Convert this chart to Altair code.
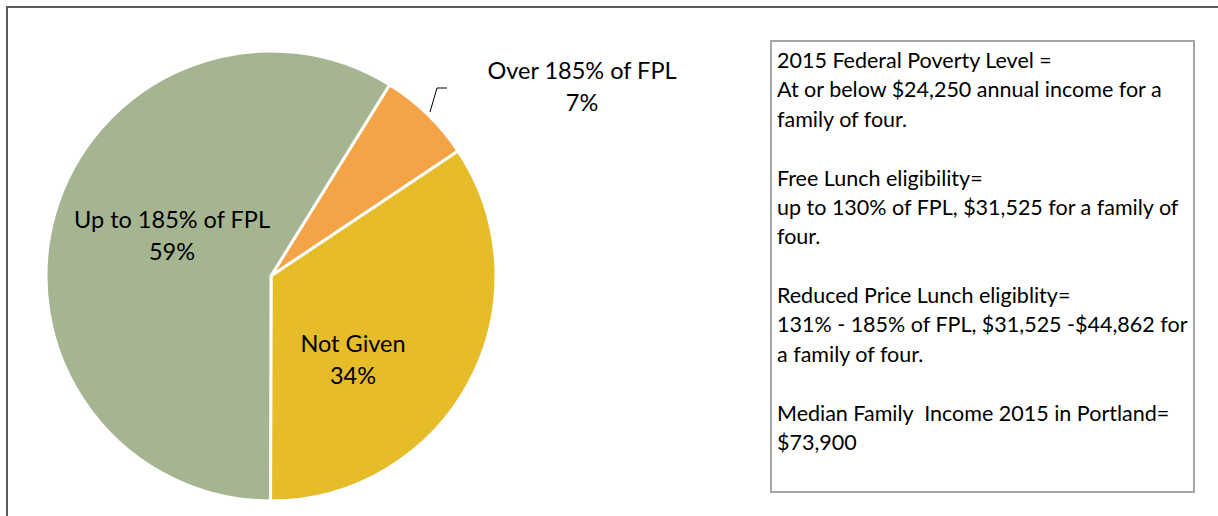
import math
import altair as alt
import pandas as pd

# ---- data ----
categories = ["Over 185% of FPL", "Not Given", "Up to 185% of FPL"]
shares = [6.8, 34.4, 58.8]
pct_labels = ["7%", "34%", "59%"]
note_lines = [
    "2015 Federal Poverty Level =",
    "At or below $24,250 annual income for a",
    "family of four.",
    "",
    "Free Lunch eligibility=",
    "up to 130% of FPL, $31,525 for a family of",
    "four.",
    "",
    "Reduced Price Lunch eligiblity=",
    "131% - 185% of FPL, $31,525 -$44,862 for",
    "a family of four.",
    "",
    "Median Family\u00a0 Income 2015 in Portland=",
    "$73,900",
]

# ---- styling / layout ----
colors = ["#F3A447", "#E6BC29", "#A5B592"]
label_x = [582, 353, 172]
label_y = [79, 352, 228]
W, H = 1218, 516
CX, CY, R = 271, 276, 225
START = math.radians(31.8)
FONT = "Lato"

df = pd.DataFrame({
    "category": categories,
    "share": shares,
    "pct": pct_labels,
    "order": list(range(len(categories))),
})
lab = df.assign(lx=label_x, ly=label_y)
one = pd.DataFrame({"a": [0]})
notes_df = pd.DataFrame({"line": note_lines, "row": list(range(len(note_lines)))})

frame_left = alt.Chart(one).mark_rule(color="#595959", strokeWidth=2).encode(
    x=alt.value(7), y=alt.value(6), y2=alt.value(H)
)
frame_top = alt.Chart(one).mark_rule(color="#595959", strokeWidth=2).encode(
    x=alt.value(6), x2=alt.value(W), y=alt.value(7)
)

pie = alt.Chart(df).mark_arc(radius=R, stroke="white", strokeWidth=3).encode(
    theta=alt.Theta("share:Q", stack=True,
                    scale=alt.Scale(range=[START, START + 2 * math.pi])),
    color=alt.Color("category:N", scale=alt.Scale(domain=categories, range=colors), legend=None),
    order=alt.Order("order:Q"),
    x=alt.value(CX), y=alt.value(CY),
)

name_text = alt.Chart(lab).mark_text(font=FONT, fontSize=23.5, color="#000000", baseline="alphabetic").encode(
    x=alt.X("lx:Q", scale=None, axis=None), y=alt.Y("ly:Q", scale=None, axis=None), text="category:N"
)
pct_text = alt.Chart(lab).mark_text(font=FONT, fontSize=23.5, color="#000000", baseline="alphabetic", dy=32).encode(
    x=alt.X("lx:Q", scale=None, axis=None), y=alt.Y("ly:Q", scale=None, axis=None), text="pct:N"
)

leader1 = alt.Chart(one).mark_rule(color="#000000", strokeWidth=1).encode(
    x=alt.value(430), y=alt.value(112), x2=alt.value(437), y2=alt.value(88)
)
leader2 = alt.Chart(one).mark_rule(color="#000000", strokeWidth=1).encode(
    x=alt.value(437), y=alt.value(88), x2=alt.value(447), y2=alt.value(88)
)

box = alt.Chart(one).mark_rect(fill="white", stroke="#A6A6A6", strokeWidth=2).encode(
    x=alt.value(771), x2=alt.value(1194), y=alt.value(41), y2=alt.value(492)
)
notes = alt.Chart(notes_df).mark_text(
    font=FONT, fontSize=21.5, color="#000000", align="left", baseline="alphabetic"
).encode(
    x=alt.value(777),
    y=alt.Y("row:Q", axis=None,
            scale=alt.Scale(domain=[0, len(note_lines) - 1], range=[68, 450])),
    text="line:N",
)

chart = alt.layer(
    frame_left, frame_top, pie, leader1, leader2, name_text, pct_text, box, notes
).properties(
    width=W, height=H, padding=0, autosize="none"
).configure_view(stroke=None)

chart.save("out.html", embed_options={"renderer": "svg", "actions": False})
